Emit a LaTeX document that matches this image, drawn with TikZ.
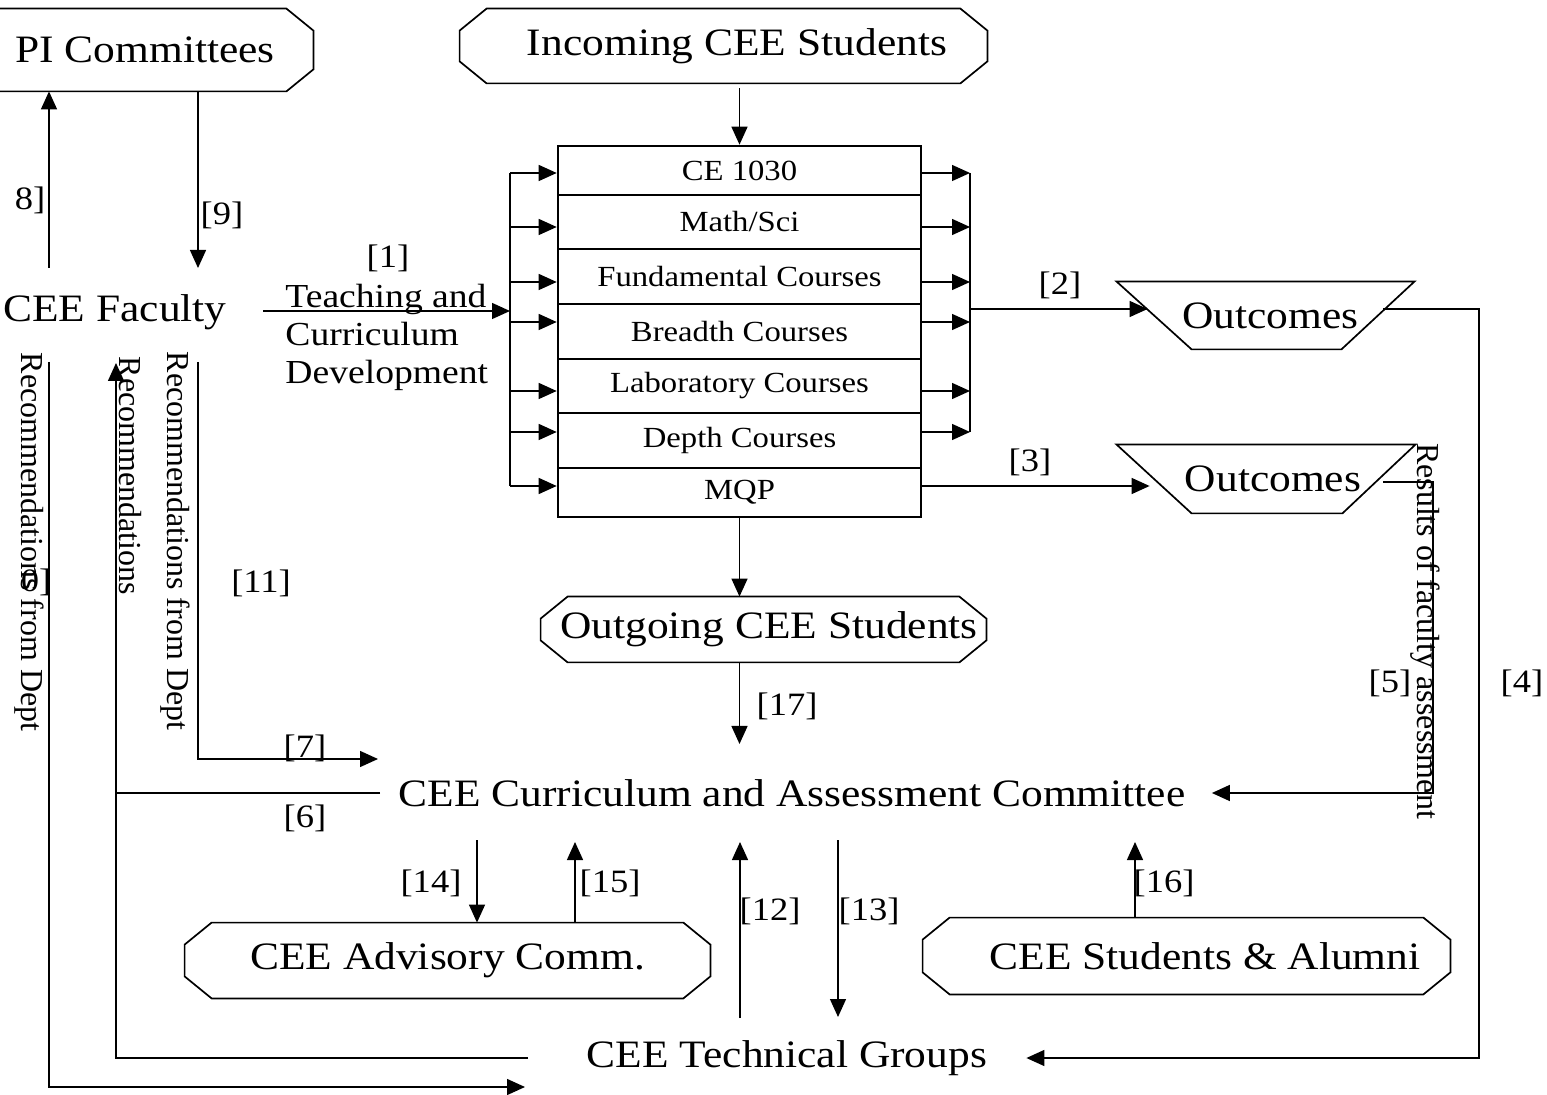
\documentclass[tikz,border=0pt]{standalone}
\usepackage{fontspec}
\setmainfont{Liberation Serif}[FakeStretch=1.12]
\newfontfamily\vfont{Liberation Serif}
\usetikzlibrary{arrows.meta,calc}
\newcommand\octdraw[1]{\draw[shp] ([xshift=13.5pt]#1.north west) -- ([xshift=-13.5pt]#1.north east) -- ([yshift=-11pt]#1.north east) -- ([yshift=11pt]#1.south east) -- ([xshift=-13.5pt]#1.south east) -- ([xshift=13.5pt]#1.south west) -- ([yshift=11pt]#1.south west) -- ([yshift=-11pt]#1.north west) -- cycle;}
\newcommand\trapdraw[1]{\draw[shp] (#1.north west) -- (#1.north east) -- ([xshift=-36.5pt]#1.south east) -- ([xshift=37.5pt]#1.south west) -- cycle;}
\begin{document}
\begin{tikzpicture}[x=0.5pt,y=-0.5pt,
  big/.style={font=\fontsize{19.4}{19.4}\selectfont, inner sep=0pt},
  lbl/.style={font=\fontsize{16.3}{16.3}\selectfont, inner sep=0pt},
  crs/.style={draw, line width=1.3pt, minimum width=181.5pt, font=\fontsize{14.6}{14.6}\selectfont, inner sep=0pt},
  vtxt/.style={font=\vfont\fontsize{16}{16}\selectfont, rotate=-90, inner sep=0pt},
  conn/.style={line width=0.7pt},
  arr/.style={conn, -{Triangle[length=9pt,width=8pt]}},
  shp/.style={line width=0.85pt}]
\useasboundingbox (0,0) rectangle (1547,1095);

% boxed nodes
\node[big, minimum width=173pt, minimum height=41pt] (pi) at (140,50) {\hspace*{5pt}PI Committees};
\octdraw{pi}
\node[big, minimum width=263.5pt, minimum height=37pt] (inc) at (723.5,46) {\hspace*{13.5pt}Incoming CEE Students};
\octdraw{inc}
\node[big, minimum width=222.5pt, minimum height=32.5pt] (out) at (763.5,629.5) {\hspace*{5.5pt}Outgoing CEE Students};
\octdraw{out}
\node[big, minimum width=262.5pt, minimum height=37.5pt] (adv) at (447.5,960.5) {CEE Advisory Comm.};
\octdraw{adv}
\node[big, minimum width=263.5pt, minimum height=38pt] (stu) at (1186.5,956) {\hspace*{18.5pt}CEE Students \& Alumni};
\octdraw{stu}
\node[big, minimum width=148.5pt, minimum height=33.5pt] (o1) at (1265.5,315.5) {\hspace*{5pt}Outcomes};
\trapdraw{o1}
\node[big, minimum width=149pt, minimum height=34pt] (o2) at (1266,479) {\hspace*{7pt}Outcomes};
\trapdraw{o2}

% course rows
\node[crs, minimum height=24.5pt] (r1) at (739.5,170.5) {CE 1030};
\node[crs, minimum height=27pt]   (r2) at (739.5,222)   {Math/Sci};
\node[crs, minimum height=27.5pt] (r3) at (739.5,276.5) {Fundamental Courses};
\node[crs, minimum height=27.5pt] (r4) at (739.5,331.5) {Breadth Courses};
\node[crs, minimum height=27pt]   (r5) at (739.5,386)   {Laboratory Courses};
\node[crs, minimum height=27.5pt] (r6) at (739.5,440.5) {Depth Courses};
\node[crs, minimum height=24.5pt] (r7) at (739.5,492.5) {MQP};

% plain text nodes
\node[big] (fac) at (115,312) {CEE Faculty};
\node[big] (com) at (792,793) {CEE Curriculum and Assessment Committee};
\node[big] (tec) at (787,1058) {CEE Technical Groups};
\node[font=\fontsize{16.8}{19}\selectfont, inner sep=0pt, align=left, anchor=west] (teach) at (285,337) {Teaching and\\Curriculum\\Development};

% vertical texts
\node[vtxt] (v1) at (29,542) {Recommendations from Dept};
\node[vtxt] (v2) at (130,476) {Recommendations};
\node[vtxt] (v3) at (175,541) {Recommendations from Dept};
\node[vtxt] (v4) at (1425,631) {Results of faculty assessment};

% labels
\node[lbl] (l8) at (30,200) {8]};
\node[lbl] (l9) at (222,215) {[9]};
\node[lbl] (l1) at (388,258) {[1]};
\node[lbl] (l2) at (1060,285) {[2]};
\node[lbl] (l3) at (1030,462) {[3]};
\node[lbl] (l11) at (261,583) {[11]};
\node[lbl] (l10) at (36,582) {0]};
\node[lbl] (l7) at (305,748) {[7]};
\node[lbl] (l6) at (305,818) {[6]};
\node[lbl] (l17) at (787,706) {[17]};
\node[lbl] (l5) at (1390,683) {[5]};
\node[lbl] (l4) at (1522,683) {[4]};
\node[lbl] (l14) at (431,883) {[14]};
\node[lbl] (l15) at (610,883) {[15]};
\node[lbl] (l12) at (770,911) {[12]};
\node[lbl] (l13) at (869,911) {[13]};
\node[lbl] (l16) at (1164,883) {[16]};

% incoming to courses
\draw[arr, shorten <=2.5pt] (r1.north |- inc.south) -- (r1.north);
% faculty to left bus
\coordinate (lb) at (510,311);
\draw[arr] (263,311) -- (lb);
\draw[conn] (510,173) -- (510,486);
\foreach \yy in {173,227,282,322,391,432,486}
  \draw[arr] (510,\yy) -- (r1.west |- 0,\yy);
% right bus
\foreach \yy in {173,227,282,322,391,432}
  \draw[arr] (r1.east |- 0,\yy) -- (970,\yy);
\draw[conn] (970,173) -- (970,432);
\draw[arr] (970,309) -- ($(o1.west)+(31,-6.5)$);
\draw[arr] (r7.east |- 0,486) -- ($(o2.west)+(33,7)$);
% outcomes feedback
\draw[arr] ($(o1.east)+(-31,-6.5)$) -- (1479,309) -- (1479,1058) -- ($(tec.east)+(39,0)$);
\draw[arr] ($(o2.east)+(-32,3)$) -- (1433,482) -- (1433,793) -- ($(com.east)+(26,0)$);
% students flow
\draw[arr] (r7.south) -- (r7.south |- out.north);
\draw[arr] (r7.south |- out.south) -- (r7.south |- 0,744);
% PI committees
\draw[arr] (49,268) -- (pi.south -| 49,0);
\draw[arr] (pi.south -| 198,0) -- (198,268);
% left loops
\draw[arr] (198,362) -- (198,759) -- (378,759);
\draw[conn] (380,793) -- (116,793);
\draw[arr] (528,1058) -- (116,1058) -- (116,363);
\draw[arr] (49,362) -- (49,1087) -- (525,1087);
% committee <-> bottom
\draw[arr] (477,840) -- (adv.north -| 477,0);
\draw[arr] (adv.north -| 575,0) -- (575,842);
\draw[arr] (740,1018) -- (740,842);
\draw[arr] (838,840) -- (838,1017);
\draw[arr] (stu.north -| 1135,0) -- (1135,842);
\end{tikzpicture}
\end{document}
